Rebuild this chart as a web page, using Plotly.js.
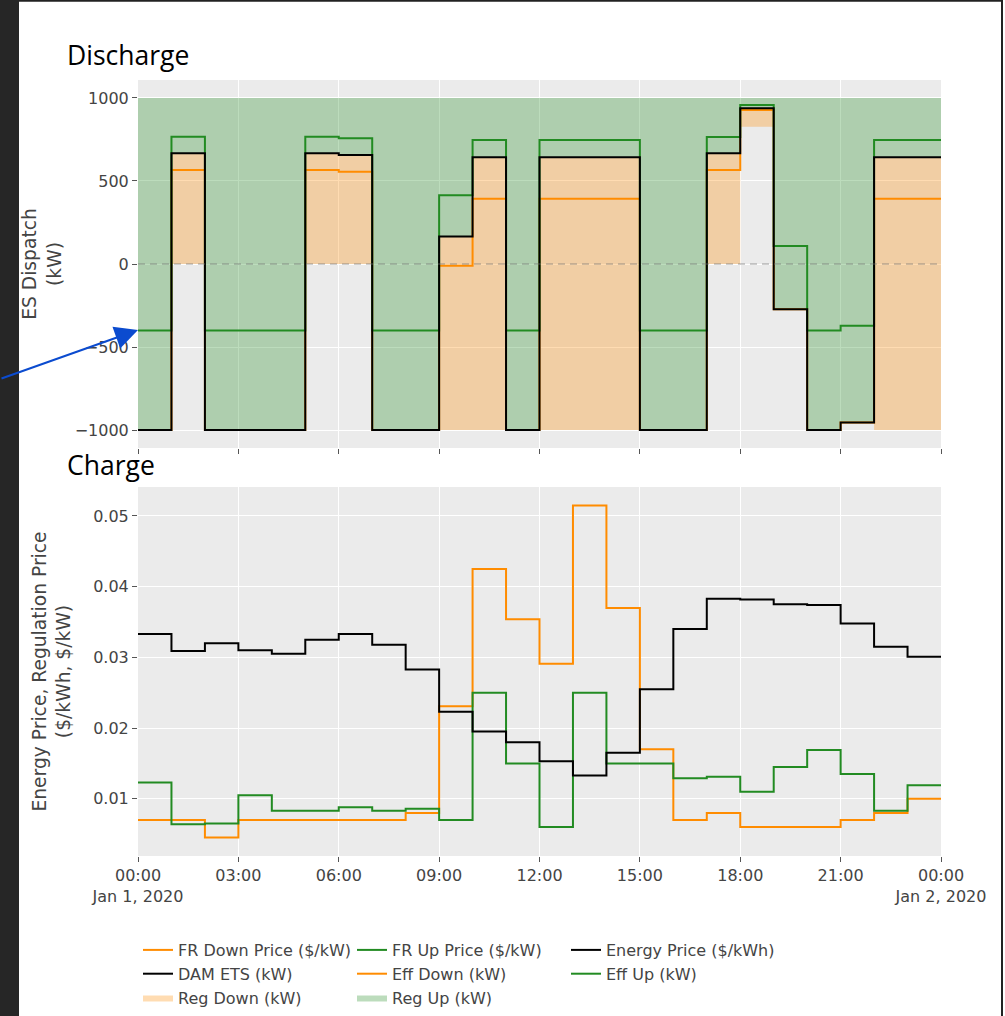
<!DOCTYPE html>
<html>
<head>
<meta charset="utf-8">
<script src="https://cdn.plot.ly/plotly-3.0.1.min.js"></script>
<style>html,body{margin:0;padding:0;background:#fff;overflow:hidden;}#wrap{width:1005px;height:1016px;overflow:hidden;}</style>
</head>
<body>
<div id="wrap"><div id="chart"></div></div>
<script>
// ---- data (hourly, Jan 1 2020) ----
const hours = [0,1,2,3,4,5,6,7,8,9,10,11,12,13,14,15,16,17,18,19,20,21,22,23,24];

const energyPrice = [0.0333,0.0309,0.0320,0.0310,0.0305,0.0325,0.0333,0.0318,0.0283,0.0223,0.0195,0.0180,
                     0.0153,0.0133,0.0165,0.0255,0.0340,0.0383,0.0382,0.0375,0.0374,0.0348,0.0315,0.0301];
const frDownPrice = [0.0070,0.0070,0.0045,0.0070,0.0070,0.0070,0.0070,0.0070,0.0080,0.0231,0.0425,0.0354,
                     0.0291,0.0515,0.0370,0.0170,0.0070,0.0080,0.0060,0.0060,0.0060,0.0070,0.0080,0.0100];
const frUpPrice   = [0.0123,0.0064,0.0065,0.0105,0.0083,0.0083,0.0088,0.0083,0.0086,0.0070,0.0250,0.0150,
                     0.0060,0.0250,0.0150,0.0150,0.0129,0.0131,0.0110,0.0145,0.0169,0.0135,0.0083,0.0119];

const damEts  = [-1000,667,-1000,-1000,-1000,667,657,-1000,-1000,165,643,-1000,
                 643,643,643,-1000,-1000,667,938,-273,-1000,-954,643,643];
const effDown = [-1000,566,-1000,-1000,-1000,566,556,-1000,-1000,-10,393,-1000,
                 393,393,393,-1000,-1000,566,928,-273,-1000,-954,393,393];
const effUp   = [-400,767,-400,-400,-400,767,757,-400,-400,414,747,-400,
                 747,747,747,-400,-400,765,958,108,-400,-372,747,747];
const regDown = [0,667,0,0,0,667,657,0,0,1165,1643,0,
                 1643,1643,1643,0,0,667,111,0,0,0,1643,1643];
const regUp   = [2000,333,2000,2000,2000,333,343,2000,2000,835,357,2000,
                 357,357,357,2000,2000,333,62,1273,2000,1954,357,357];

const legendNames = ['FR Down Price ($/kW)','FR Up Price ($/kW)','Energy Price ($/kWh)',
                     'DAM ETS (kW)','Eff Down (kW)','Eff Up (kW)','Reg Down (kW)','Reg Up (kW)'];

// ---- helpers ----
function ts(h){ const d = Math.floor(h/24), hh = h % 24; return '2020-01-0' + (1+d) + ' ' + String(hh).padStart(2,'0') + ':00'; }
const x = hours.map(ts);
function ext(a){ return a.concat([a[a.length-1]]); }

const ORANGE = 'darkorange', GREEN = 'forestgreen', BLACK = 'black';

function line(y, name, color, rank, xa, ya){
  return {x: x, y: ext(y), name: name, mode: 'lines', type: 'scatter', xaxis: xa, yaxis: ya,
          line: {shape: 'hv', color: color, width: 2}, legendrank: rank};
}
function helper(y){
  return {x: x, y: ext(y), mode: 'lines', type: 'scatter', xaxis: 'x2', yaxis: 'y2', showlegend: false,
          hoverinfo: 'skip', line: {shape: 'hv', width: 0, color: 'rgba(0,0,0,0)'}};
}

const regDownLevel = damEts.map((v,i) => v - regDown[i]);
const regUpLevel   = damEts.map((v,i) => v + regUp[i]);

const data = [
  line(frDownPrice, legendNames[0], ORANGE, 1, 'x', 'y'),
  line(frUpPrice,   legendNames[1], GREEN,  2, 'x', 'y'),
  line(energyPrice, legendNames[2], BLACK,  3, 'x', 'y'),
  helper(damEts),
  {x: x, y: ext(regDownLevel), name: legendNames[6], mode: 'lines', type: 'scatter', xaxis: 'x2', yaxis: 'y2',
   fill: 'tonexty', fillcolor: 'rgba(255,140,0,0.3)', line: {shape: 'hv', width: 0, color: 'rgba(255,140,0,0.3)'}, legendrank: 7},
  helper(damEts),
  {x: x, y: ext(regUpLevel), name: legendNames[7], mode: 'lines', type: 'scatter', xaxis: 'x2', yaxis: 'y2',
   fill: 'tonexty', fillcolor: 'rgba(34,139,34,0.3)', line: {shape: 'hv', width: 0, color: 'rgba(34,139,34,0.3)'}, legendrank: 8},
  line(effDown, legendNames[4], ORANGE, 5, 'x2', 'y2'),
  line(effUp,   legendNames[5], GREEN,  6, 'x2', 'y2'),
  line(damEts,  legendNames[3], BLACK,  4, 'x2', 'y2')
];

const axisStyle = {ticks: 'outside', ticklen: 5, tickcolor: '#555', gridcolor: 'white', gridwidth: 1,
                   zeroline: false, showline: false};

// figure is a little taller than the window so the bottom legend never pushes the plot area
const L = 138, R = 941, T = 80, B = 856, W = 1005, H = 1040;
const px = v => (v - L) / (R - L);
const py = v => (B - v) / (B - T);

const layout = {
  width: W, height: H,
  margin: {l: L, r: W - R, t: T, b: H - B, pad: 0},
  paper_bgcolor: 'white', plot_bgcolor: '#ebebeb',
  font: {family: 'DejaVu Sans, Verdana, sans-serif', size: 16, color: '#444'},
  showlegend: true,
  legend: {orientation: 'h', traceorder: 'normal', x: 0, xanchor: 'left', y: py(933), yanchor: 'top',
           entrywidth: 169, entrywidthmode: 'pixels',
           font: {size: 16, color: '#444'}, bgcolor: 'rgba(0,0,0,0)'},
  xaxis: Object.assign({}, axisStyle, {type: 'date', anchor: 'y', domain: [0,1],
          range: [ts(0), ts(24)], tick0: ts(0), dtick: 3*3600*1000}),
  xaxis2: Object.assign({}, axisStyle, {type: 'date', anchor: 'y2', domain: [0,1], matches: 'x',
          showticklabels: false, tick0: ts(0), dtick: 3*3600*1000}),
  yaxis: Object.assign({}, axisStyle, {domain: [0, py(487)], range: [0.0019, 0.0541], tick0: 0, dtick: 0.01,
          automargin: true,
          title: {text: 'Energy Price, Regulation Price<br>($/kWh, $/kW)', standoff: 17, font: {size: 18.7, color: '#444'}}}),
  yaxis2: Object.assign({}, axisStyle, {domain: [py(448), 1], range: [-1108, 1108], tick0: 0, dtick: 500,
          automargin: true,
          title: {text: 'ES Dispatch<br>(kW)', standoff: 8, font: {size: 18.7, color: '#444'}}}),
  shapes: [
    {type: 'line', xref: 'paper', yref: 'y2', x0: 0, x1: 1, y0: 0, y1: 0,
     line: {color: 'rgba(110,110,110,0.45)', width: 1.5, dash: '7px,5px'}},
    {type: 'rect', xref: 'paper', yref: 'paper', x0: px(0), x1: px(19), y0: py(H), y1: py(0),
     fillcolor: '#262626', line: {width: 0}},
    {type: 'line', xref: 'paper', yref: 'paper', x0: px(19), x1: px(1003), y0: py(0.8), y1: py(0.8),
     line: {color: '#222', width: 2}},
    {type: 'line', xref: 'paper', yref: 'paper', x0: px(1002), x1: px(1002), y0: py(0), y1: py(H),
     line: {color: '#222', width: 2}}
  ],
  annotations: [
    {text: 'Discharge', xref: 'paper', yref: 'paper', x: px(65), y: py(55), xanchor: 'left', yanchor: 'middle',
     showarrow: false, font: {family: 'Open Sans, sans-serif', size: 26.5, color: 'black'}},
    {text: 'Charge', xref: 'paper', yref: 'paper', x: px(65), y: py(465), xanchor: 'left', yanchor: 'middle',
     showarrow: false, font: {family: 'Open Sans, sans-serif', size: 26.5, color: 'black'}},
    {text: '', xref: 'paper', yref: 'paper', x: px(138), y: py(330), showarrow: true,
     ax: -150, ay: 49, arrowcolor: '#0b4bcf', arrowwidth: 2, arrowhead: 2, arrowsize: 2.3, standoff: 0}
  ]
};

Plotly.newPlot('chart', data, layout, {displayModeBar: false, responsive: false});
</script>
</body>
</html>
